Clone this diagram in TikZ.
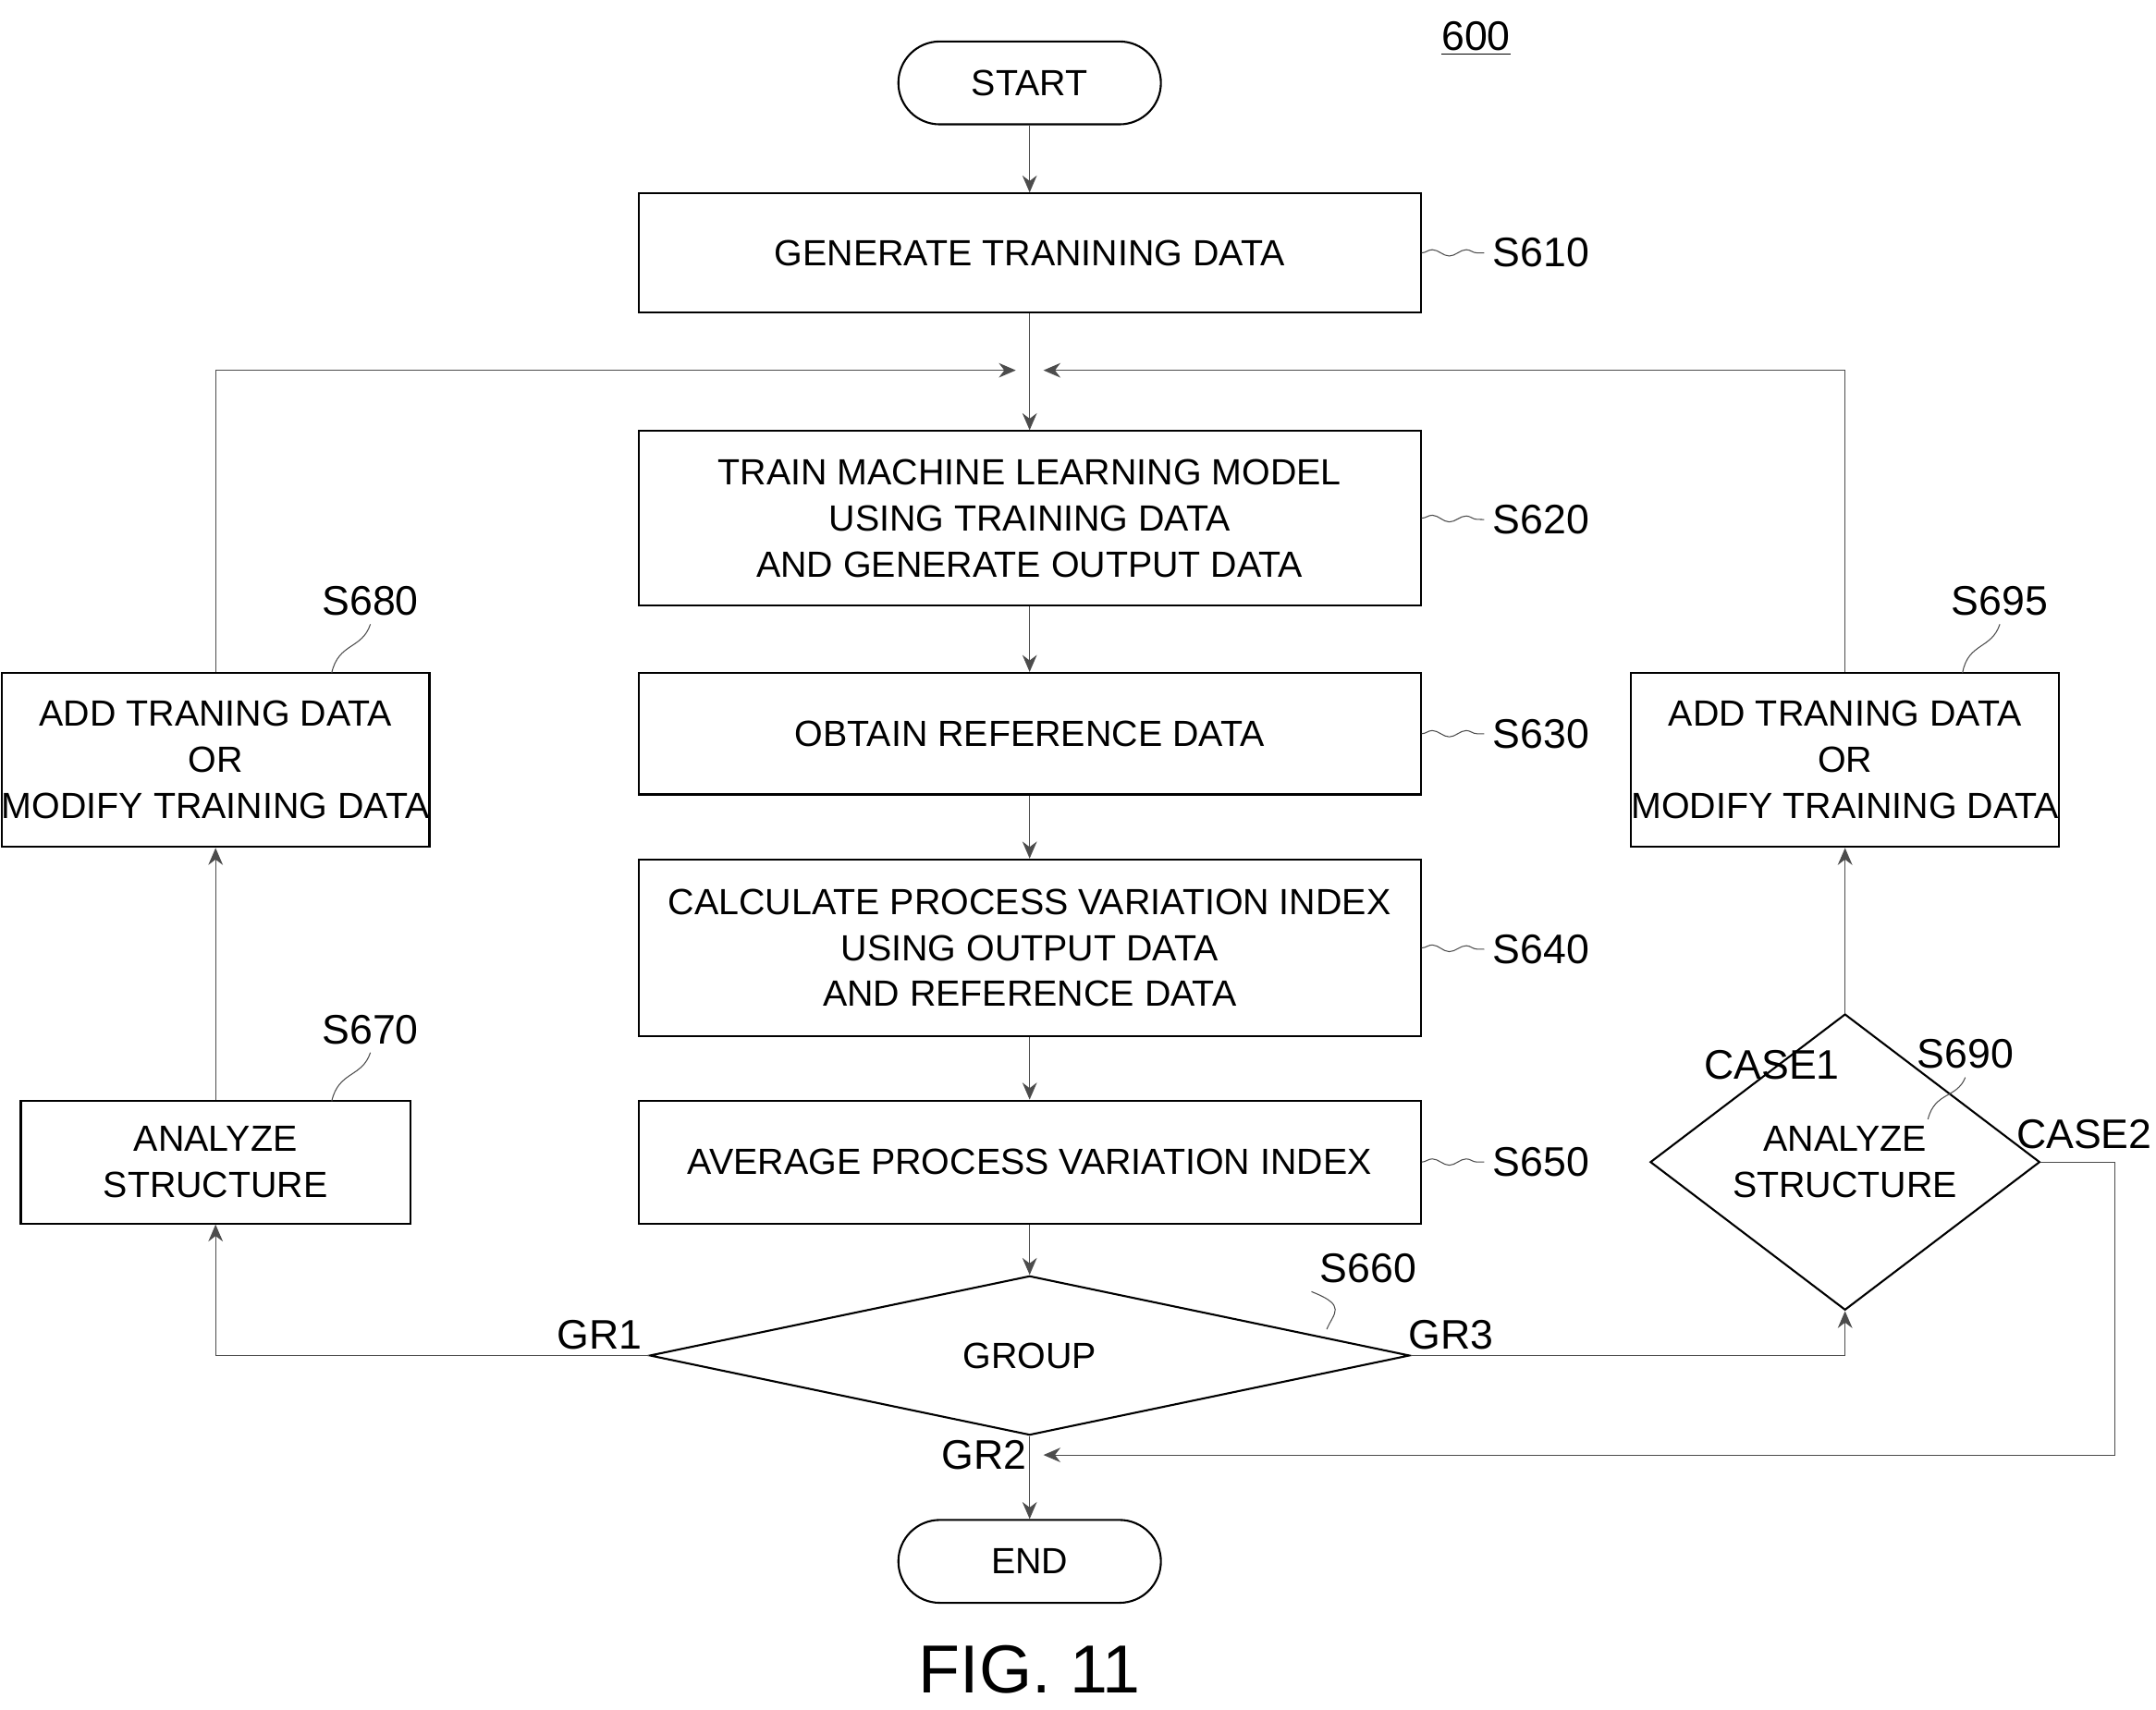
\documentclass[tikz,border=0pt]{standalone}
\usepackage{fontspec}
\setmainfont{Liberation Sans}
\usetikzlibrary{shapes.geometric,arrows.meta,decorations.pathmorphing}
\begin{document}
\begin{tikzpicture}[x=0.02cm,y=-0.02cm,
  font=\fontsize{15}{19}\selectfont,
  box/.style={draw,thick,align=center,inner sep=0pt},
  term/.style={draw,thick,rounded rectangle,minimum width=3.8cm,minimum height=1.2cm,inner sep=0pt},
  dia/.style={draw,thick,diamond,inner sep=0pt,align=center},
  ln/.style={draw=black!70},
  ar/.style={ln,-{Stealth[length=7pt,width=6pt]}},
  sq/.style={decorate,decoration={snake,amplitude=1.3pt,segment length=14pt}},
  lab/.style={font=\fontsize{17}{20}\selectfont}]
\usetikzlibrary{shapes.misc}
\useasboundingbox (0,0) rectangle (1560,1237);
\node[lab] (n600) at (1068,28) {\underline{600}};
\node[draw,thick,rounded corners=0.6cm,minimum width=3.8cm,minimum height=1.2cm] (start) at (745,60) {START};
\node[box,minimum width=11.32cm,minimum height=1.72cm] (s610) at (745,183) {GENERATE TRANINING DATA};
\coordinate (j1) at (745,268);
\node[box,minimum width=11.32cm,minimum height=2.52cm] (s620) at (745,375) {TRAIN MACHINE LEARNING MODEL\\USING TRAINING DATA\\AND GENERATE OUTPUT DATA};
\node[box,minimum width=11.32cm,minimum height=1.76cm] (s630) at (745,531) {OBTAIN REFERENCE DATA};
\node[box,minimum width=11.32cm,minimum height=2.56cm] (s640) at (745,686) {CALCULATE PROCESS VARIATION INDEX\\USING OUTPUT DATA\\AND REFERENCE DATA};
\node[box,minimum width=11.32cm,minimum height=1.78cm] (s650) at (745,841) {AVERAGE PROCESS VARIATION INDEX};
\node[dia,minimum width=11cm,minimum height=1.86cm] (s660) at (745,981) {GROUP};
\coordinate (j2) at (745,1053);
\node[draw,thick,rounded corners=0.6cm,minimum width=3.8cm,minimum height=1.2cm] (end) at (745,1130) {END};
\node[box,minimum width=5.64cm,minimum height=1.78cm] (s670) at (156,841) {ANALYZE\\STRUCTURE};
\node[box,minimum width=5.64cm,minimum height=2.52cm] (s680) at (156,550) {ADD TRANING DATA\\OR\\MODIFY TRAINING DATA};
\node[box,minimum width=5.66cm,minimum height=2.52cm] (s695) at (1335,550) {ADD TRANING DATA\\OR\\MODIFY TRAINING DATA};
\node[dia,minimum width=5.64cm,minimum height=1.86cm] (s690) at (1335,841) {ANALYZE\\STRUCTURE};
\node[font=\fontsize{28}{32}\selectfont] (fig) at (745,1208) {FIG. 11};
% arrows
\draw[ar] (start) -- (s610);
\draw[ar] (s610) -- (s620);
\draw[ar] (s620) -- (s630);
\draw[ar] (s630) -- (s640);
\draw[ar] (s640) -- (s650);
\draw[ar] (s650) -- (s660);
\draw[ar] (s660) -- (end);
\draw[ar] (s680.north) |- (735,268);
\draw[ar] (s695.north) |- (755,268);
\draw[ar] (s660.west) -| (s670.south);
\draw[ar] (s670) -- (s680);
\draw[ar] (s660.east) -| (s690.south);
\draw[ar] (s690) -- (s695);
\coordinate (c2) at (1530,1053);
\draw[ar] (s690.east) -| (c2) -- (755,1053);
% labels
\node[lab] (l610) at (1115,183) {S610};
\node[lab] (l620) at (1115,376) {S620};
\node[lab] (l630) at (1115,531) {S630};
\node[lab] (l640) at (1115,687) {S640};
\node[lab] (l650) at (1115,841) {S650};
\node[lab] (l660) at (990,918) {S660};
\node[lab] (l670) at (268,745) {S670};
\node[lab] (l680) at (268,435) {S680};
\node[lab] (l695) at (1447,435) {S695};
\node[lab] (l690) at (1422,763) {S690};
\node[lab] (gr1) at (434,966) {GR1};
\node[lab] (gr3) at (1050,966) {GR3};
\node[lab] (gr2) at (712,1053) {GR2};
\node[lab] (case1) at (1282,771) {CASE1};
\node[lab] (case2) at (1508,821) {CASE2};
\foreach \a in {610,620,630,640,650}{\draw[ln,sq] (s\a.east) -- (l\a.west);}
\draw[ln] (l660.south west) .. controls (975,945) and (965,950) .. (960,962);
\draw[ln] (l680.south) .. controls (262,470) and (245,465) .. (240,487);
\draw[ln] (l670.south) .. controls (262,780) and (245,775) .. (240,797);
\draw[ln] (l695.south) .. controls (1441,470) and (1424,465) .. (1420,487);
\draw[ln] (l690.south) .. controls (1416,795) and (1400,790) .. (1395,810);
\end{tikzpicture}
\end{document}
